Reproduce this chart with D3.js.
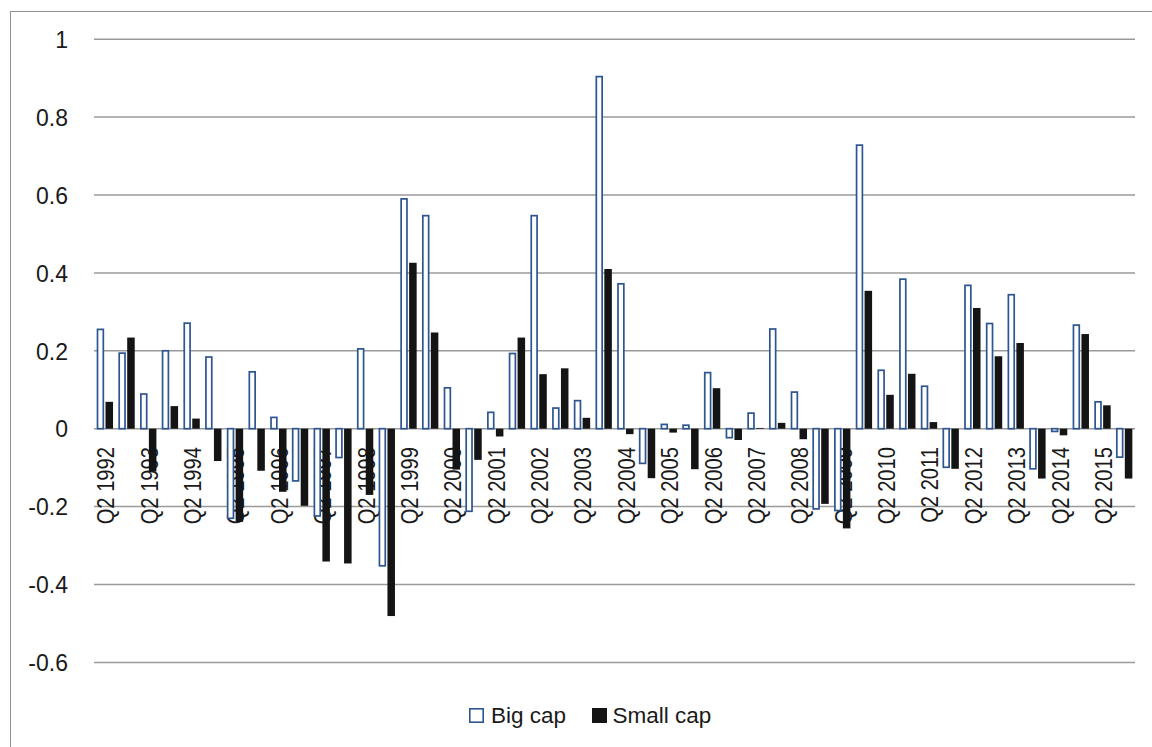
<!DOCTYPE html>
<html>
<head>
<meta charset="utf-8">
<script src="https://cdn.jsdelivr.net/npm/d3@7"></script>
<style>
  html, body { margin: 0; padding: 0; background: #fff; }
  svg { display: block; }
  text { font-family: "Liberation Sans", Arial, sans-serif; fill: #1a1a1a; }
</style>
</head>
<body>
<svg id="chart" width="1152" height="747"></svg>
<script>
// Half-year periods, 1992 to 2015
const years = d3.range(1992, 2016);
const categories = years.flatMap(y => ["Q2 " + y, "Q4 " + y]);

// Returns by period
const bigCap = [0.255, 0.194, 0.089, 0.200, 0.271, 0.184, -0.230, 0.146, 0.029, -0.134,
  -0.224, -0.074, 0.205, -0.352, 0.590, 0.547, 0.105, -0.212, 0.042, 0.193,
  0.547, 0.053, 0.072, 0.904, 0.372, -0.089, 0.011, 0.009, 0.144, -0.023,
  0.040, 0.256, 0.094, -0.206, -0.210, 0.728, 0.150, 0.384, 0.109, -0.099,
  0.368, 0.270, 0.344, -0.103, -0.007, 0.266, 0.069, -0.073];
const smallCap = [0.069, 0.234, -0.110, 0.058, 0.026, -0.083, -0.239, -0.108, -0.162, -0.198,
  -0.341, -0.346, -0.170, -0.481, 0.426, 0.247, -0.105, -0.080, -0.020, 0.234,
  0.140, 0.155, 0.028, 0.410, -0.014, -0.127, -0.010, -0.104, 0.104, -0.029,
  0.002, 0.015, -0.027, -0.193, -0.256, 0.354, 0.087, 0.141, 0.017, -0.103,
  0.310, 0.186, 0.220, -0.128, -0.017, 0.243, 0.060, -0.128];

const seriesNames = ["Big cap", "Small cap"];
const yTicks = [-0.6, -0.4, -0.2, 0, 0.2, 0.4, 0.6, 0.8, 1];
const xTickLabels = categories.filter((d, i) => i % 2 === 0);

const svg = d3.select("#chart");

// Chart frame
svg.append("rect")
  .attr("x", 10.5).attr("y", 11.5)
  .attr("width", 1150).attr("height", 745)
  .attr("fill", "#fff").attr("stroke", "#8f8f8f").attr("stroke-width", 1);

const x = d3.scaleBand().domain(categories).range([94, 1135]).paddingInner(0).paddingOuter(0);
const xs = d3.scaleBand().domain(seriesNames).range([0, x.bandwidth()])
  .paddingInner(0.15).paddingOuter(0.3);
const y = d3.scaleLinear().domain([-0.6, 1]).range([662.4, 39.2]);

// Gridlines
svg.append("g").selectAll("line").data(yTicks).join("line")
  .attr("x1", 94).attr("x2", 1135)
  .attr("y1", d => y(d)).attr("y2", d => y(d))
  .attr("stroke", "#9a9a9a").attr("stroke-width", 1.5);

// Value axis labels (plain hyphen for negatives)
const yAxis = d3.axisLeft(y).tickValues(yTicks).tickSize(0).tickPadding(0)
  .tickFormat(d => String(+d.toFixed(1)));
const ya = svg.append("g").attr("transform", "translate(68,0)").call(yAxis);
ya.select(".domain").remove();
ya.selectAll("text")
  .attr("font-family", "Liberation Sans, Arial, sans-serif")
  .attr("font-size", 23).attr("fill", "#1a1a1a").attr("dy", "0.36em");

// Category labels, rotated, next to the zero line
svg.append("g").selectAll("text").data(xTickLabels).join("text")
  .attr("transform", d => `translate(${x(d) + x.bandwidth() / 2 + 9.5},447) rotate(-90) scale(0.84,1)`)
  .attr("text-anchor", "end")
  .attr("font-size", 24)
  .text(d => d);

// Bars
const rows = categories.map((c, i) => ({ c, vals: [bigCap[i], smallCap[i]] }));
const groups = svg.append("g").selectAll("g").data(rows).join("g")
  .attr("transform", d => `translate(${x(d.c)},0)`);

const sw = 1.7;
groups.append("rect") // Big cap: outlined
  .attr("x", xs("Big cap") + sw / 2)
  .attr("width", xs.bandwidth() - sw)
  .attr("y", d => Math.min(y(d.vals[0]), y(0)))
  .attr("height", d => Math.abs(y(d.vals[0]) - y(0)))
  .attr("fill", "#fff").attr("stroke", "#2c5592").attr("stroke-width", sw);

groups.append("rect") // Small cap: solid
  .attr("x", xs("Small cap"))
  .attr("width", xs.bandwidth())
  .attr("y", d => Math.min(y(d.vals[1]), y(0)))
  .attr("height", d => Math.abs(y(d.vals[1]) - y(0)))
  .attr("fill", "#141414");

// Legend
const legend = svg.append("g").attr("transform", "translate(469,708)");
legend.append("rect").attr("x", 0.8).attr("y", 0.8).attr("width", 13.4).attr("height", 13.4)
  .attr("fill", "#fff").attr("stroke", "#2c5592").attr("stroke-width", 1.6);
legend.append("text").attr("x", 22).attr("y", 15).attr("font-size", 22.5).text(seriesNames[0]);
legend.append("rect").attr("x", 123).attr("y", 0).attr("width", 15).attr("height", 15)
  .attr("fill", "#141414");
legend.append("text").attr("x", 143.5).attr("y", 15).attr("font-size", 22.5).text(seriesNames[1]);
</script>
</body>
</html>
